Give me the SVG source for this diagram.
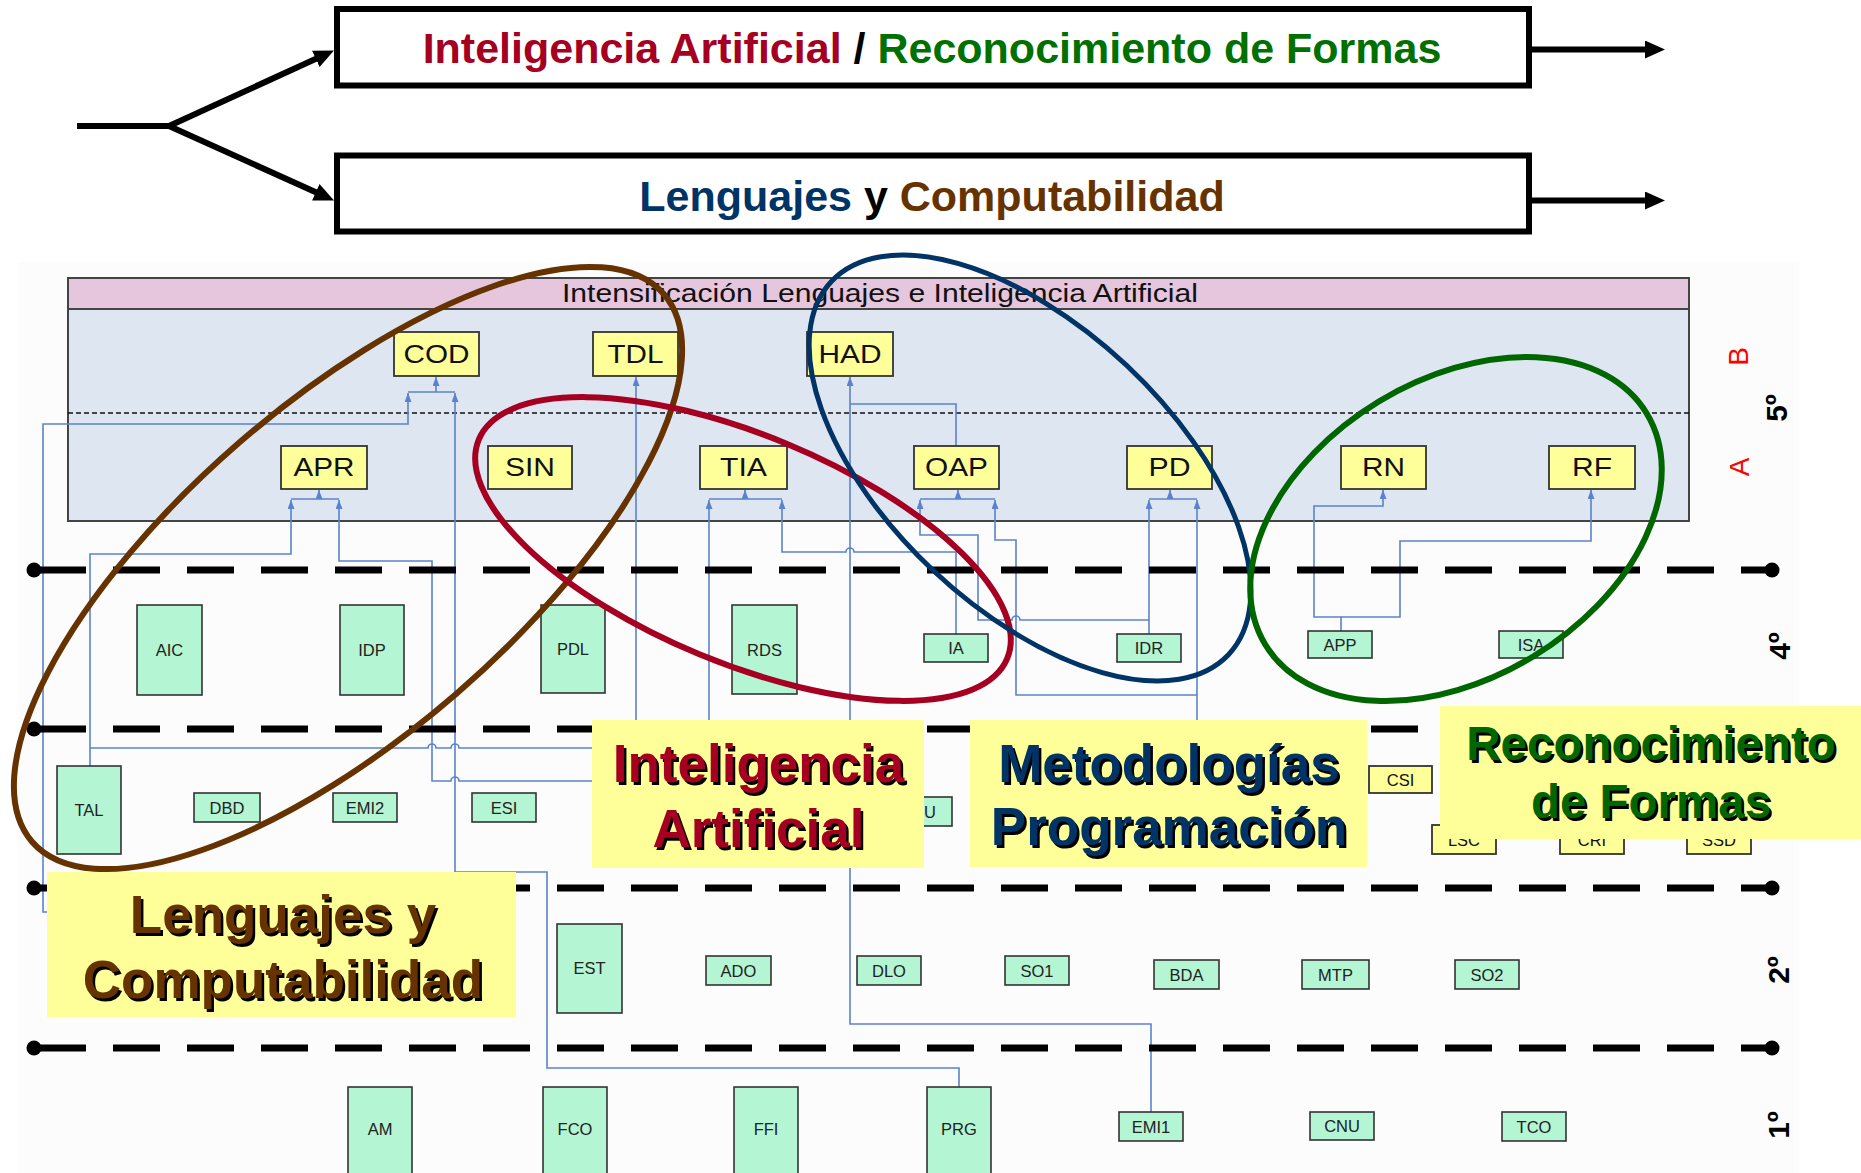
<svg xmlns="http://www.w3.org/2000/svg" width="1861" height="1173" viewBox="0 0 1861 1173">
<style>
text{font-family:"Liberation Sans",Arial,sans-serif}
.yb rect{fill:#FFFF99;stroke:#333;stroke-width:1.8}
.gb rect{fill:#B4F5D4;stroke:#333;stroke-width:1.6}
.yb text{font-size:25px;text-anchor:middle;fill:#111}
.gb text{font-size:16.5px;text-anchor:middle;fill:#222}
.c path{fill:none;stroke:#5B83CB;stroke-width:1.6}
.yl{stroke:#000;stroke-width:7;stroke-dasharray:47 27;stroke-dashoffset:69;fill:none}
.dot{fill:#000}
.big{fill:none;stroke:#000;stroke-width:6}
.ttl{font-size:43px;font-weight:bold;text-anchor:middle}
.lab{font-size:53px;font-weight:bold;text-anchor:middle}
.sh{fill:#000}
.yr{font-size:30px;font-weight:bold;text-anchor:middle;fill:#000}
.ab{font-size:28px;text-anchor:middle;fill:#FF0000}
.ell{fill:none}
</style>
<defs>
<marker id="arr" markerUnits="userSpaceOnUse" viewBox="0 0 9 7" refX="9" refY="3.5" markerWidth="9" markerHeight="7" orient="auto">
<path d="M0,0 L9,3.5 L0,7 z" fill="#5B83CB"/>
</marker>
<marker id="bigarr" markerUnits="userSpaceOnUse" viewBox="0 0 20 18" refX="8" refY="9" markerWidth="20" markerHeight="18" orient="auto">
<path d="M0,0 L20,9 L0,18 z" fill="#000"/>
</marker>
</defs>
<rect x="0" y="0" width="1861" height="1173" fill="#fff"/>

<!-- Title boxes -->
<g id="title-ia-rf">
<rect x="337" y="9" width="1192" height="76.5" class="big" fill="#fff"/>
<text class="ttl" x="932" y="63"><tspan fill="#A50021">Inteligencia Artificial</tspan><tspan fill="#000"> / </tspan><tspan fill="#007000">Reconocimiento de Formas</tspan></text>
</g>
<g id="title-lc">
<rect x="337" y="155.5" width="1192" height="76" class="big" fill="#fff"/>
<text class="ttl" x="932" y="211"><tspan fill="#003366">Lenguajes</tspan><tspan fill="#000"> y </tspan><tspan fill="#663300">Computabilidad</tspan></text>
</g>
<g id="title-arrows">
<path class="big" d="M77 126 H169"/>
<path class="big" d="M169 126 L323.1 55.5" marker-end="url(#bigarr)"/>
<path class="big" d="M169 126 L323.1 195.5" marker-end="url(#bigarr)"/>
<path class="big" d="M1532 49.5 H1653" marker-end="url(#bigarr)"/>
<path class="big" d="M1532 200.5 H1653" marker-end="url(#bigarr)"/>
</g>

<!-- background of plan -->
<rect x="18" y="262" width="1781" height="911" fill="#FCFCFC"/>

<!-- 5th year block -->
<g id="intensificacion">
<rect x="68" y="309" width="1621" height="212" fill="#DEE6F1" stroke="#444" stroke-width="2"/>
<rect x="68" y="278" width="1621" height="31" fill="#E6C6DD" stroke="#444" stroke-width="2"/>
<text x="880" y="302" font-size="26" text-anchor="middle" fill="#111" textLength="636" lengthAdjust="spacingAndGlyphs">Intensificación Lenguajes e Inteligencia Artificial</text>
<path d="M68 413 H1689" stroke="#111" stroke-width="1.5" stroke-dasharray="5 3" fill="none"/>
</g>

<!-- Connectors -->
<g id="connectors" class="c">
<path d="M436 392 V377" marker-end="url(#arr)"/>
<path d="M408 392 H455"/>
<path d="M70 912 H43 V424 H408 V393" marker-end="url(#arr)"/>
<path d="M959 1087 V1068 H547 V872 H455 V393" marker-end="url(#arr)"/>
<path d="M636 760 V377" marker-end="url(#arr)"/>
<path d="M1151 1112 V1024 H850 V377" marker-end="url(#arr)"/>
<path d="M956 446 V404 H850"/>
<path d="M319 499 V490" marker-end="url(#arr)"/>
<path d="M291 499 H339"/>
<path d="M90 766 V554 H291 V500" marker-end="url(#arr)"/>
<path d="M90 748 H428 A4 4 0 0 1 436 748 H451 A4 4 0 0 1 459 748 H640"/>
<path d="M640 781 H459 A4 4 0 0 0 451 781 H432 V561 H339 V500" marker-end="url(#arr)"/>
<path d="M745 499 V490" marker-end="url(#arr)"/>
<path d="M709 499 H782"/>
<path d="M709 740 V500" marker-end="url(#arr)"/>
<path d="M956 634 V552 H854 A4 4 0 0 0 846 552 H782 V500" marker-end="url(#arr)"/>
<path d="M958 499 V490" marker-end="url(#arr)"/>
<path d="M920 499 H995"/>
<path d="M1149 620 H1020 A4 4 0 0 0 1012 620 H978 V535 H920 V500" marker-end="url(#arr)"/>
<path d="M1197 695 H1016 V540 H995 V500" marker-end="url(#arr)"/>
<path d="M1170 499 V490" marker-end="url(#arr)"/>
<path d="M1149 499 H1197"/>
<path d="M1149 634 V500" marker-end="url(#arr)"/>
<path d="M1197 740 V500" marker-end="url(#arr)"/>
<path d="M1341 631 V617 H1314 V506 H1383 V490" marker-end="url(#arr)"/>
<path d="M1341 617 H1400 V541 H1591 V490" marker-end="url(#arr)"/>
</g>

<!-- Year separator lines -->
<g id="year-lines">
<path class="yl" d="M34 570 H1772"/>
<path class="yl" d="M34 729 H1772"/>
<path class="yl" d="M34 888 H1772"/>
<path class="yl" d="M34 1048 H1772"/>
<circle class="dot" cx="34" cy="570" r="7.5"/><circle class="dot" cx="1772" cy="570" r="7.5"/>
<circle class="dot" cx="34" cy="729" r="7.5"/><circle class="dot" cx="1772" cy="729" r="7.5"/>
<circle class="dot" cx="34" cy="888" r="7.5"/><circle class="dot" cx="1772" cy="888" r="7.5"/>
<circle class="dot" cx="34" cy="1048" r="7.5"/><circle class="dot" cx="1772" cy="1048" r="7.5"/>
</g>

<!-- 5th year nodes -->
<g id="n-COD" class="yb"><rect x="394" y="332" width="85" height="44"/><text x="436.5" y="363" textLength="66" lengthAdjust="spacingAndGlyphs">COD</text></g>
<g id="n-TDL" class="yb"><rect x="593" y="332" width="85" height="44"/><text x="635.5" y="363" textLength="56" lengthAdjust="spacingAndGlyphs">TDL</text></g>
<g id="n-HAD" class="yb"><rect x="807" y="332" width="86" height="44"/><text x="850" y="363" textLength="63" lengthAdjust="spacingAndGlyphs">HAD</text></g>
<g id="n-APR" class="yb"><rect x="281" y="446" width="86" height="43"/><text x="324" y="476" textLength="61" lengthAdjust="spacingAndGlyphs">APR</text></g>
<g id="n-SIN" class="yb"><rect x="488" y="446" width="84" height="43"/><text x="530" y="476" textLength="50" lengthAdjust="spacingAndGlyphs">SIN</text></g>
<g id="n-TIA" class="yb"><rect x="700" y="446" width="87" height="43"/><text x="743.5" y="476" textLength="47" lengthAdjust="spacingAndGlyphs">TIA</text></g>
<g id="n-OAP" class="yb"><rect x="914" y="446" width="85" height="43"/><text x="956.5" y="476" textLength="63" lengthAdjust="spacingAndGlyphs">OAP</text></g>
<g id="n-PD" class="yb"><rect x="1127" y="446" width="85" height="43"/><text x="1169.5" y="476" textLength="42" lengthAdjust="spacingAndGlyphs">PD</text></g>
<g id="n-RN" class="yb"><rect x="1341" y="446" width="85" height="43"/><text x="1383.5" y="476" textLength="43" lengthAdjust="spacingAndGlyphs">RN</text></g>
<g id="n-RF" class="yb"><rect x="1549" y="446" width="86" height="43"/><text x="1592" y="476" textLength="40" lengthAdjust="spacingAndGlyphs">RF</text></g>

<!-- 4th year nodes -->
<g id="n-AIC" class="gb"><rect x="137" y="605" width="65" height="90"/><text x="169.5" y="656">AIC</text></g>
<g id="n-IDP" class="gb"><rect x="340" y="605" width="64" height="90"/><text x="372" y="656">IDP</text></g>
<g id="n-PDL" class="gb"><rect x="541" y="605" width="64" height="88"/><text x="573" y="655">PDL</text></g>
<g id="n-RDS" class="gb"><rect x="732" y="605" width="65" height="89"/><text x="764.5" y="655.5">RDS</text></g>
<g id="n-IA" class="gb"><rect x="924" y="634" width="64" height="28"/><text x="956" y="654">IA</text></g>
<g id="n-IDR" class="gb"><rect x="1117" y="634" width="64" height="28"/><text x="1149" y="654">IDR</text></g>
<g id="n-APP" class="gb"><rect x="1308" y="631" width="64" height="27"/><text x="1340" y="650.5">APP</text></g>
<g id="n-ISA" class="gb"><rect x="1499" y="631" width="64" height="27"/><text x="1531" y="650.5">ISA</text></g>

<!-- 3rd year nodes -->
<g id="n-TAL" class="gb"><rect x="57" y="766" width="64" height="88"/><text x="89" y="816">TAL</text></g>
<g id="n-DBD" class="gb"><rect x="194" y="793" width="66" height="29"/><text x="227" y="813.5">DBD</text></g>
<g id="n-EMI2" class="gb"><rect x="333" y="793" width="64" height="29"/><text x="365" y="813.5">EMI2</text></g>
<g id="n-ESI" class="gb"><rect x="472" y="793" width="64" height="29"/><text x="504" y="813.5">ESI</text></g>
<g id="n-U" class="gb"><rect x="886" y="797" width="66" height="29"/><text x="930" y="817.5">U</text></g>
<g id="n-CSI" class="yb"><rect x="1369" y="766" width="63" height="27"/><text x="1400.5" y="785.5" style="font-size:16.5px">CSI</text></g>
<g id="n-LSC" class="yb"><rect x="1432" y="825" width="64" height="29"/><text x="1464" y="846" style="font-size:16.5px">LSC</text></g>
<g id="n-CRI" class="yb"><rect x="1560" y="825" width="64" height="29"/><text x="1592" y="846" style="font-size:16.5px">CRI</text></g>
<g id="n-SSD" class="yb"><rect x="1687" y="825" width="64" height="29"/><text x="1719" y="846" style="font-size:16.5px">SSD</text></g>

<!-- 2nd year nodes -->
<g id="n-EST" class="gb"><rect x="557" y="924" width="65" height="89"/><text x="589.5" y="974">EST</text></g>
<g id="n-ADO" class="gb"><rect x="706" y="956" width="65" height="29"/><text x="738.5" y="976.5">ADO</text></g>
<g id="n-DLO" class="gb"><rect x="857" y="956" width="64" height="29"/><text x="889" y="976.5">DLO</text></g>
<g id="n-SO1" class="gb"><rect x="1005" y="956" width="64" height="29"/><text x="1037" y="976.5">SO1</text></g>
<g id="n-BDA" class="gb"><rect x="1154" y="960" width="65" height="29"/><text x="1186.5" y="980.5">BDA</text></g>
<g id="n-MTP" class="gb"><rect x="1302" y="960" width="67" height="29"/><text x="1335.5" y="980.5">MTP</text></g>
<g id="n-SO2" class="gb"><rect x="1455" y="960" width="64" height="29"/><text x="1487" y="980.5">SO2</text></g>

<!-- 1st year nodes -->
<g id="n-AM" class="gb"><rect x="348" y="1087" width="64" height="90"/><text x="380" y="1135">AM</text></g>
<g id="n-FCO" class="gb"><rect x="543" y="1087" width="64" height="90"/><text x="575" y="1135">FCO</text></g>
<g id="n-FFI" class="gb"><rect x="734" y="1087" width="64" height="90"/><text x="766" y="1135">FFI</text></g>
<g id="n-PRG" class="gb"><rect x="927" y="1087" width="64" height="90"/><text x="959" y="1135">PRG</text></g>
<g id="n-EMI1" class="gb"><rect x="1119" y="1112" width="64" height="29"/><text x="1151" y="1132.5">EMI1</text></g>
<g id="n-CNU" class="gb"><rect x="1310" y="1112" width="64" height="28"/><text x="1342" y="1132">CNU</text></g>
<g id="n-TCO" class="gb"><rect x="1502" y="1112" width="64" height="29"/><text x="1534" y="1132.5">TCO</text></g>

<!-- year / semester labels -->
<g id="year-labels">
<text class="ab" transform="translate(1748,356.5) rotate(-90)">B</text>
<text class="ab" transform="translate(1749,467) rotate(-90)">A</text>
<text class="yr" transform="translate(1787,408) rotate(-90)">5º</text>
<text class="yr" transform="translate(1790,646) rotate(-90)">4º</text>
<text class="yr" transform="translate(1789,970) rotate(-90)">2º</text>
<text class="yr" transform="translate(1789,1125) rotate(-90)">1º</text>
</g>

<!-- Ellipses -->
<g id="groupings">
<ellipse class="ell" cx="348" cy="568" rx="418" ry="166" transform="rotate(-40.9 348 568)" stroke="#663300" stroke-width="6"/>
<ellipse class="ell" cx="743" cy="549" rx="286" ry="114" transform="rotate(22.5 743 549)" stroke="#A50021" stroke-width="6"/>
<ellipse class="ell" cx="1030" cy="468" rx="272.5" ry="141" transform="rotate(43.2 1030 468)" stroke="#003366" stroke-width="5"/>
<ellipse class="ell" cx="1456" cy="529" rx="223" ry="149" transform="rotate(-31.2 1456 529)" stroke="#006600" stroke-width="6"/>
</g>

<!-- Labels -->
<g id="label-lc">
<rect x="47" y="872" width="469" height="145" fill="#FFFF99"/>
<text class="lab sh" x="285.5" y="935.5">Lenguajes y</text>
<text class="lab sh" x="285.5" y="1000.5">Computabilidad</text>
<text class="lab" x="283" y="933" fill="#663300">Lenguajes y</text>
<text class="lab" x="283" y="998" fill="#663300">Computabilidad</text>
</g>
<g id="label-ia">
<rect x="592" y="720" width="332" height="148" fill="#FFFF99"/>
<text class="lab sh" x="761" y="784.5">Inteligencia</text>
<text class="lab sh" x="761" y="849.5">Artificial</text>
<text class="lab" x="758.5" y="782" fill="#A50021">Inteligencia</text>
<text class="lab" x="758.5" y="847" fill="#A50021">Artificial</text>
</g>
<g id="label-mp">
<rect x="970" y="720" width="397" height="147" fill="#FFFF99"/>
<text class="lab sh" x="1171.5" y="784.5">Metodologías</text>
<text class="lab sh" x="1171.5" y="847.5">Programación</text>
<text class="lab" x="1169" y="782" fill="#003366">Metodologías</text>
<text class="lab" x="1169" y="845" fill="#003366">Programación</text>
</g>
<g id="label-rf">
<rect x="1440" y="706" width="421" height="133" fill="#FFFF99"/>
<text class="lab sh" x="1653.5" y="762.5" style="font-size:47.5px">Reconocimiento</text>
<text class="lab sh" x="1653.5" y="820.5" style="font-size:47.5px">de Formas</text>
<text class="lab" x="1651" y="760" fill="#006600" style="font-size:47.5px">Reconocimiento</text>
<text class="lab" x="1651" y="818" fill="#006600" style="font-size:47.5px">de Formas</text>
</g>
</svg>
